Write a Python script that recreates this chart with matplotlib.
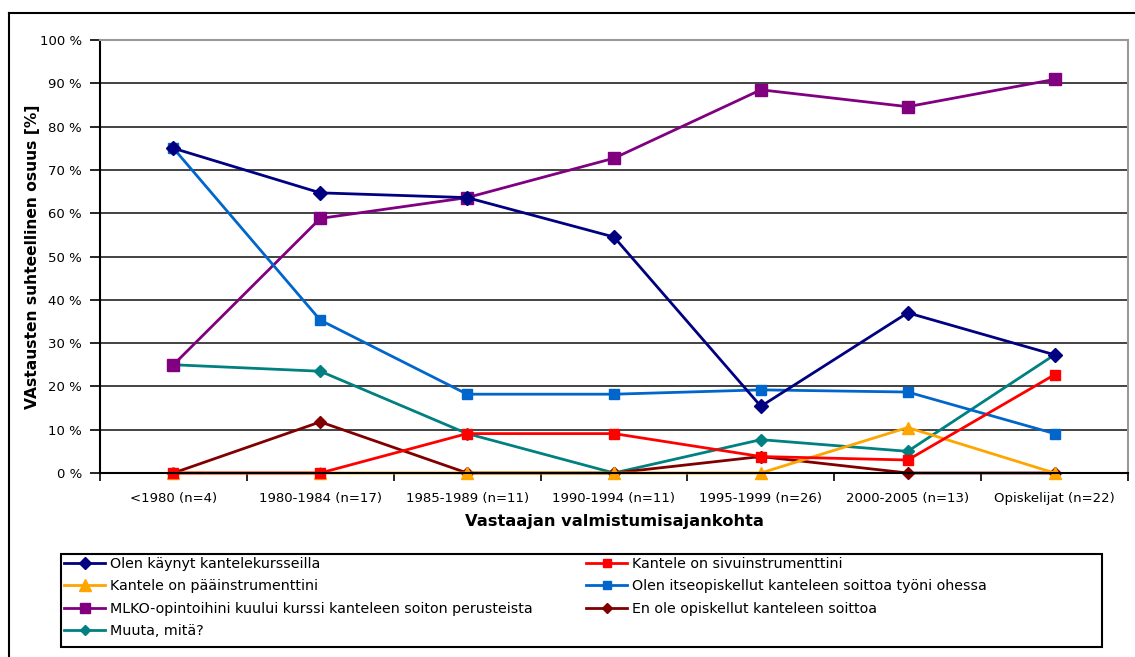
#!/usr/bin/env python3
from matplotlib import pyplot as plt
from matplotlib.lines import Line2D
import numpy as np

plt.rcParams['font.family'] = 'DejaVu Sans'

categories = ['<1980 (n=4)', '1980-1984 (n=17)', '1985-1989 (n=11)', '1990-1994 (n=11)',
              '1995-1999 (n=26)', '2000-2005 (n=13)', 'Opiskelijat (n=22)']

kurssit = [75.0, 64.7, 63.6, 54.5, 15.4, 37.0, 27.3]
sivuinstr = [0.0, 0.0, 9.1, 9.1, 3.8, 3.0, 22.7]
paainstr = [0.0, 0.0, 0.0, 0.0, 0.0, 10.5, 0.0]
itseopiskelu = [75.0, 35.3, 18.2, 18.2, 19.2, 18.7, 9.1]
mlko = [25.0, 58.8, 63.6, 72.7, 88.5, 84.6, 90.9]
ei_opiskellut = [0.0, 11.8, 0.0, 0.0, 3.8, 0.0, 0.0]
muuta = [25.0, 23.5, 9.1, 0.0, 7.7, 5.0, 27.3]

series = [
    ('Olen käynyt kantelekursseilla', kurssit, '#000080', 'D', 7),
    ('Kantele on sivuinstrumenttini', sivuinstr, '#FF0000', 's', 7),
    ('Kantele on pääinstrumenttini', paainstr, '#FFA500', '^', 9),
    ('Olen itseopiskellut kanteleen soittoa työni ohessa', itseopiskelu, '#0066CC', 's', 7),
    ('MLKO-opintoihini kuului kurssi kanteleen soiton perusteista', mlko, '#800080', 's', 8),
    ('En ole opiskellut kanteleen soittoa', ei_opiskellut, '#800000', 'D', 6),
    ('Muuta, mitä?', muuta, '#008080', 'D', 6),
]

fig = plt.figure(figsize=(11.35, 6.57), dpi=100)
ax = fig.add_axes([100/1135, 1 - 473/657, 1028/1135, 433/657])

x = np.arange(len(categories))
# draw in reverse so the first series ends up on top
handles = {}
for name, vals, col, mk, ms in reversed(series):
    h, = ax.plot(x, vals, color=col, marker=mk, markersize=ms, linewidth=2,
                 markeredgecolor=col, clip_on=False)
    handles[name] = h

ax.set_xlim(-0.5, len(categories) - 0.5)
ax.set_ylim(0, 100)
ax.set_yticks(np.arange(0, 101, 10))
ax.set_yticklabels([f'{v} %' for v in range(0, 101, 10)], fontsize=9.5)
ax.set_xticks(x)
ax.set_xticklabels(categories, fontsize=9.5)
ax.set_xticks(np.arange(-0.5, len(categories), 1), minor=True)
ax.tick_params(axis='x', which='major', length=0, pad=14)
ax.tick_params(axis='x', which='minor', length=6, width=1.2, color='black')
ax.tick_params(axis='y', length=7, width=1.2, pad=6, color='black')

for v in range(10, 100, 10):
    ax.axhline(v, color='#222222', linewidth=1.2, zorder=0)
ax.spines['left'].set_linewidth(1.5)
ax.spines['bottom'].set_linewidth(1.5)
ax.spines['top'].set_color('#999999')
ax.spines['right'].set_color('#999999')
ax.spines['top'].set_linewidth(1.5)
ax.spines['right'].set_linewidth(1.5)

ax.set_xlabel('Vastaajan valmistumisajankohta', fontsize=11.7, fontweight='bold', labelpad=6)
ax.set_ylabel('VAstausten suhteellinen osuus [%]', fontsize=11.2, fontweight='bold', labelpad=0)

# legend box
box = plt.Rectangle((61/1135, 1 - 647/657), (1102 - 61)/1135, (647 - 554)/657,
                    transform=fig.transFigure, fill=False, edgecolor='black', linewidth=1.5)
fig.patches.append(box)

left_names = [series[0][0], series[2][0], series[4][0], series[6][0]]
right_names = [series[1][0], series[3][0], series[5][0]]
for names, x0 in [(left_names, 64/1135), (right_names, 586/1135)]:
    hs = [Line2D([], [], color=handles[n].get_color(), marker=handles[n].get_marker(),
                 markersize=handles[n].get_markersize() - 1, linewidth=2) for n in names]
    fig.legend(hs, names, loc='upper left', bbox_to_anchor=(x0, 1 - 557/657),
               frameon=False, fontsize=10.3, handlelength=2.9, handletextpad=0.3,
               labelspacing=0.58, borderaxespad=0, borderpad=0)

# outer chart border (top and left only visible)
fig.add_artist(Line2D([9/1135, 1], [1 - 13/657, 1 - 13/657], transform=fig.transFigure,
                      color='black', linewidth=1.5))
fig.add_artist(Line2D([9/1135, 9/1135], [0, 1 - 13/657], transform=fig.transFigure,
                      color='black', linewidth=1.5))

plt.savefig('out.png', dpi=100)
